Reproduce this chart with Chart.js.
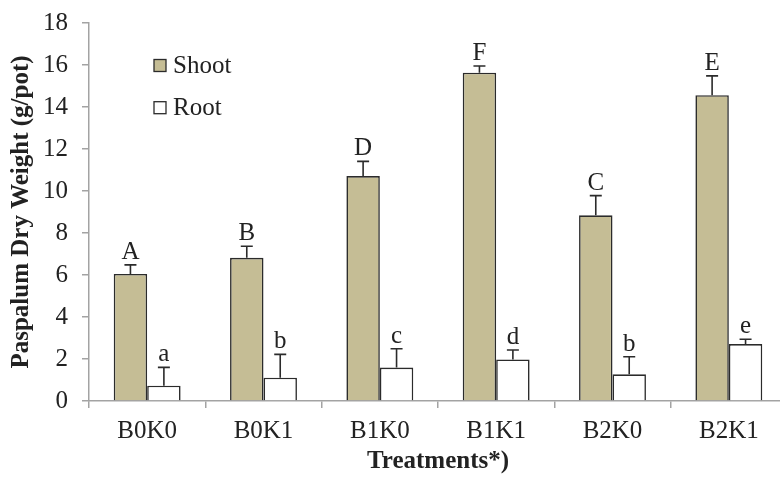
<!DOCTYPE html>
<html>
<head>
<meta charset="utf-8">
<script src="https://cdn.jsdelivr.net/npm/chart.js@4.4.1/dist/chart.umd.min.js"></script>
<style>
  html, body { margin: 0; padding: 0; background: #ffffff; overflow: hidden; }
  #wrap { width: 792px; height: 479px; position: relative; }
</style>
</head>
<body>
<div id="wrap"><canvas id="c"></canvas></div>
<script>
// ---- data ----
const categories = ['B0K0', 'B0K1', 'B1K0', 'B1K1', 'B2K0', 'B2K1'];
const shootValues = [6.05, 6.82, 10.71, 15.63, 8.84, 14.56];
const shootErrors = [0.43, 0.55, 0.70, 0.32, 0.94, 0.92];
const rootValues  = [0.73, 1.11, 1.59, 1.98, 1.27, 2.71];
const rootErrors  = [0.87, 1.11, 0.90, 0.45, 0.84, 0.23];
const shootLetters = ['A', 'B', 'D', 'F', 'C', 'E'];
const rootLetters  = ['a', 'b', 'c', 'd', 'b', 'e'];
const yTicks = [0, 2, 4, 6, 8, 10, 12, 14, 16, 18];
const seriesNames = ['Shoot', 'Root'];

const SERIF = '"Liberation Serif", "Times New Roman", serif';
const shootColor = '#c5bd95';
const edgeColor = '#2b2b2b';
const axisColor = '#a3a3a3';
const FS = 25;

const errorPlugin = {
  id: 'errorsAndLetters',
  afterDatasetsDraw(chart) {
    const ctx = chart.ctx;
    const y = chart.scales.y;
    const sets = [
      { err: shootErrors, vals: shootValues, letters: shootLetters, idx: 0 },
      { err: rootErrors, vals: rootValues, letters: rootLetters, idx: 1 }
    ];
    ctx.save();
    sets.forEach(s => {
      const meta = chart.getDatasetMeta(s.idx);
      meta.data.forEach((bar, i) => {
        const x = bar.x;
        const yTop = y.getPixelForValue(s.vals[i]);
        const yErr = y.getPixelForValue(s.vals[i] + s.err[i]);
        ctx.strokeStyle = edgeColor;
        ctx.lineWidth = 1.6;
        ctx.beginPath();
        ctx.moveTo(x, yTop);
        ctx.lineTo(x, yErr);
        ctx.moveTo(x - 6, yErr);
        ctx.lineTo(x + 6, yErr);
        ctx.stroke();
        ctx.fillStyle = '#222222';
        ctx.font = FS + 'px ' + SERIF;
        ctx.textAlign = 'center';
        ctx.textBaseline = 'alphabetic';
        ctx.fillText(s.letters[i], x, yErr - 6);
      });
    });
    // legend
    const lx = 154, ly = [65.5, 107.7];
    const fills = [shootColor, '#ffffff'];
    ly.forEach((cy, k) => {
      ctx.fillStyle = fills[k];
      ctx.fillRect(lx, cy - 6, 12, 12);
      ctx.strokeStyle = edgeColor;
      ctx.lineWidth = 1.3;
      ctx.strokeRect(lx, cy - 6, 12, 12);
      ctx.fillStyle = '#222222';
      ctx.font = FS + 'px ' + SERIF;
      ctx.textAlign = 'left';
      ctx.textBaseline = 'middle';
      ctx.fillText(seriesNames[k], lx + 19, cy + 1);
    });
    ctx.restore();
  }
};

new Chart(document.getElementById('c'), {
  type: 'bar',
  data: {
    labels: categories,
    datasets: [
      { label: seriesNames[0], data: shootValues, backgroundColor: shootColor,
        borderColor: edgeColor, borderWidth: 1.6, borderSkipped: 'bottom',
        categoryPercentage: 0.575, barPercentage: 1.0 },
      { label: seriesNames[1], data: rootValues, backgroundColor: '#ffffff',
        borderColor: edgeColor, borderWidth: 1.6, borderSkipped: 'bottom',
        categoryPercentage: 0.575, barPercentage: 1.0 }
    ]
  },
  options: {
    responsive: true,
    maintainAspectRatio: false,
    animation: false,
    devicePixelRatio: 1,
    layout: { padding: { left: 0, right: 5, top: 2, bottom: 0 } },
    plugins: {
      legend: { display: false },
      tooltip: { enabled: false }
    },
    scales: {
      x: {
        afterFit(scale) { scale.height = 78; },
        grid: { display: true, drawOnChartArea: false, drawTicks: true, tickLength: 7,
                color: axisColor, lineWidth: 1.5, offset: true },
        border: { display: true, color: axisColor, width: 1.5 },
        ticks: { color: '#222222', font: { family: SERIF, size: FS }, padding: 8 },
        title: { display: true, text: 'Treatments*)', color: '#222222',
                 font: { family: SERIF, size: FS, weight: 'bold' }, padding: { top: 0, bottom: 2 } }
      },
      y: {
        min: 0, max: 18,
        afterBuildTicks(scale) { scale.ticks = yTicks.map(v => ({ value: v })); },
        afterFit(scale) { scale.width = 89; },
        grid: { display: true, drawOnChartArea: false, drawTicks: true, tickLength: 7,
                color: axisColor, lineWidth: 1.5 },
        border: { display: true, color: axisColor, width: 1.5 },
        ticks: { color: '#222222', font: { family: SERIF, size: FS, lineHeight: 0.72 }, padding: 14 },
        title: { display: true, text: 'Paspalum Dry Weight (g/pot)', color: '#222222',
                 font: { family: SERIF, size: FS, weight: 'bold' }, padding: { top: 7, bottom: 0 } }
      }
    }
  },
  plugins: [errorPlugin]
});
</script>
</body>
</html>
